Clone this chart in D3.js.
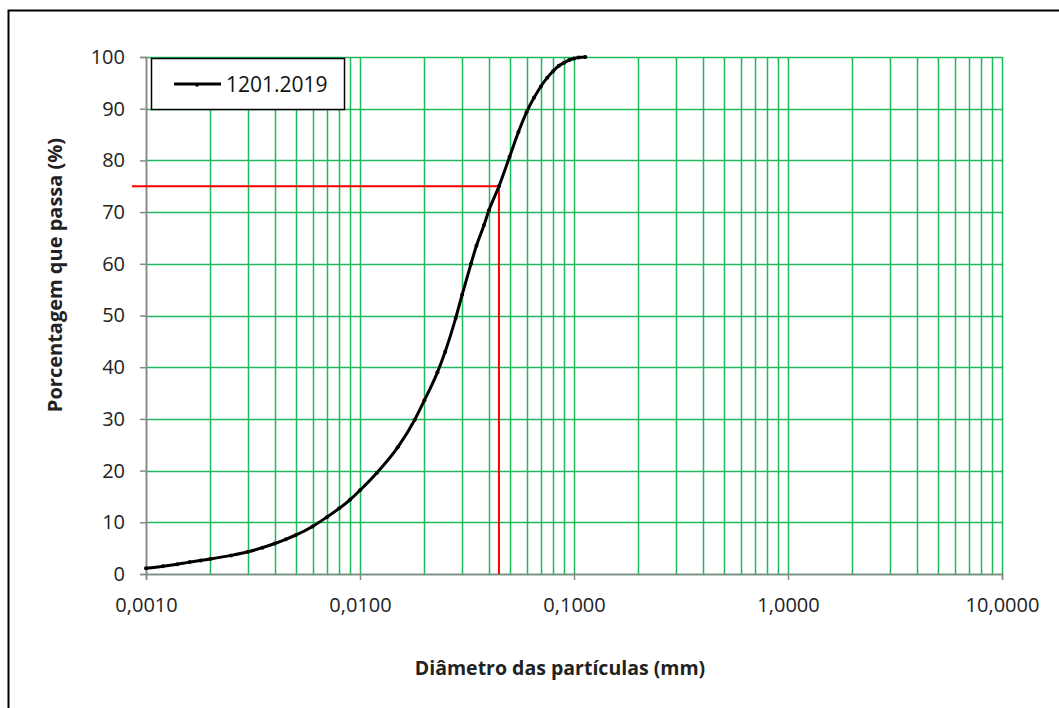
<!DOCTYPE html>
<html><head><meta charset="utf-8">
<script src="https://cdn.jsdelivr.net/npm/d3@7"></script>
<style>body{margin:0;background:#fff}svg{display:block}</style>
</head><body><svg id="c" width="1059" height="708"></svg>
<script>
const seriesName = "1201.2019";
const diameters = [0.0010,0.0012,0.0014,0.0016,0.0018,0.0020,0.0025,0.0030,0.0035,0.0040,0.0045,0.0050,0.0060,0.0070,0.0080,0.0090,0.0100,0.0120,0.0150,0.0180,0.0200,0.0230,0.0250,0.0280,0.0300,0.0330,0.0350,0.0380,0.0400,0.0446,0.0500,0.0550,0.0600,0.0650,0.0700,0.0750,0.0800,0.0850,0.0900,0.0950,0.1000,0.1050,0.1130];
const passing   = [1.1,1.5,1.9,2.3,2.6,2.9,3.6,4.3,5.1,5.9,6.7,7.5,9.2,11.0,12.7,14.4,16.2,19.6,24.5,29.8,33.6,39.0,43.0,49.5,54.0,60.0,63.5,67.5,70.3,75.0,80.7,85.5,89.3,92.1,94.3,96.0,97.3,98.3,98.9,99.4,99.7,99.9,100];
const yTicks = [0,10,20,30,40,50,60,70,80,90,100];
const xMajor = [0.001,0.01,0.1,1,10];
const xLabels = ["0,0010","0,0100","0,1000","1,0000","10,0000"];
const refD = [0.00086,0.0446];
const refP = 75;

const font = "'Open Sans',sans-serif";
const svg = d3.select("#c");
const x = d3.scaleLog().domain([0.001,10]).range([146,1002]);
const y = d3.scaleLinear().domain([0,100]).range([574,57]);

// outer frame
svg.append("rect").attr("x",8.5).attr("y",10.5).attr("width",1100).attr("height",800)
  .attr("fill","none").attr("stroke","#000").attr("stroke-width",2);

const green = "#1fb85a";
const xGrid = [];
for (let e=-3; e<1; e++) for (let k=1;k<=9;k++) xGrid.push(k*Math.pow(10,e));
xGrid.push(10);
svg.append("g").selectAll("line").data(xGrid).join("line")
  .attr("x1",d=>Math.round(x(d))+0.5).attr("x2",d=>Math.round(x(d))+0.5)
  .attr("y1",y(100)).attr("y2",y(0))
  .attr("stroke",green).attr("stroke-width",1.5);
svg.append("g").selectAll("line").data(yTicks).join("line")
  .attr("x1",x(0.001)).attr("x2",x(10))
  .attr("y1",d=>Math.round(y(d))+0.5).attr("y2",d=>Math.round(y(d))+0.5)
  .attr("stroke",green).attr("stroke-width",1.5);

// axes
const yAxis = d3.axisLeft(y).tickValues(yTicks).tickSize(6).tickPadding(15);
const gy = svg.append("g").attr("transform",`translate(${x(0.001)},0)`).call(yAxis);
const xAxis = d3.axisBottom(x).tickValues(xMajor).tickFormat((d,i)=>xLabels[i]).tickSize(6).tickPadding(18);
const gx = svg.append("g").attr("transform",`translate(0,${y(0)})`).call(xAxis);
[gx,gy].forEach(g=>{
  g.select(".domain").attr("stroke","#888").attr("stroke-width",1.5);
  g.selectAll(".tick line").attr("stroke","#888").attr("stroke-width",1.5);
  g.selectAll("text").attr("font-family",font).attr("font-size",20).attr("fill","#222");
});

// red reference lines
svg.append("path")
  .attr("d",d3.line()([[x(refD[0]),y(refP)],[x(refD[1]),y(refP)],[x(refD[1]),y(0)]]))
  .attr("fill","none").attr("stroke","#ff0000").attr("stroke-width",2);

// curve
const pts = diameters.map((d,i)=>[x(d),y(passing[i])]);
svg.append("path").attr("d",d3.line().curve(d3.curveMonotoneX)(pts))
  .attr("fill","none").attr("stroke","#000").attr("stroke-width",3);
svg.append("g").selectAll("circle").data(pts).join("circle")
  .attr("cx",d=>d[0]).attr("cy",d=>d[1]).attr("r",2).attr("fill","#000");

// legend
svg.append("rect").attr("x",151.5).attr("y",58.5).attr("width",193).attr("height",51)
  .attr("fill","#fff").attr("stroke","#000").attr("stroke-width",1.5);
svg.append("line").attr("x1",174).attr("x2",221).attr("y1",84).attr("y2",84)
  .attr("stroke","#000").attr("stroke-width",3);
svg.append("circle").attr("cx",197).attr("cy",85).attr("r",1.8).attr("fill","#000");
svg.append("text").attr("x",226).attr("y",92).text(seriesName)
  .attr("font-family",font).attr("font-size",21).attr("fill","#111");

// titles
svg.append("text").attr("transform","translate(62,275) rotate(-90)").attr("text-anchor","middle")
  .attr("font-family",font).attr("font-weight","bold").attr("font-size",20).attr("fill","#222")
  .text("Porcentagem que passa (%)");
svg.append("text").attr("x",560).attr("y",675).attr("text-anchor","middle")
  .attr("font-family",font).attr("font-weight","bold").attr("font-size",19.5).attr("fill","#222")
  .text("Diâmetro das partículas (mm)");
</script></body></html>
